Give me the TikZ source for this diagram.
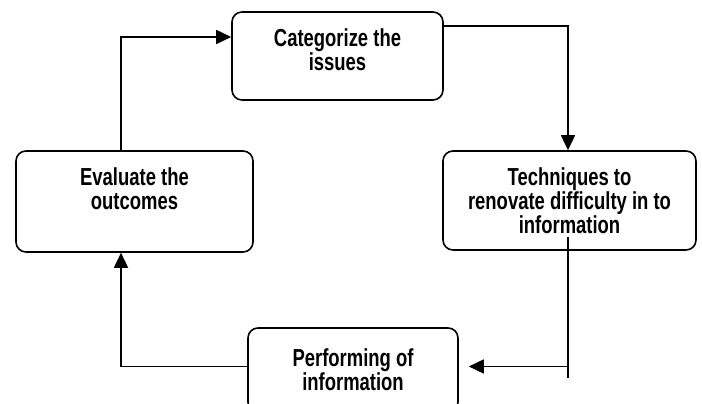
\documentclass[tikz,border=0pt]{standalone}
\usepackage{fontspec}
\setmainfont{Liberation Sans}[FakeStretch=0.75]
\usetikzlibrary{arrows.meta}

\tikzset{
  stage/.style={draw, line width=1.6pt, rounded corners=10pt, align=center,
    inner sep=0pt, font=\bfseries\fontsize{24.6}{24}\selectfont},
  flow/.style={line width=1.6pt, -{Triangle[length=15pt,width=14pt]}}
}

\begin{document}
\begin{tikzpicture}[x=1pt,y=1pt]
\useasboundingbox (0,0) rectangle (702,404);
\clip (0,0) rectangle (702,404);

\node[stage, minimum width=211pt, minimum height=88pt, text depth=12pt] (cat) at (337.5,348) {Categorize the\\issues};
\node[stage, minimum width=253pt, minimum height=99pt] (tech) at (569.5,203.5) {Techniques to\\renovate difficulty in to\\information};
\node[stage, minimum width=237pt, minimum height=101pt, text depth=25pt] (eval) at (134.5,202.5) {Evaluate the\\outcomes};
\node[stage, minimum width=210pt, minimum height=84pt] (perf) at (353,34) {Performing of\\information};

  \coordinate (over) at (568,378);
  \coordinate (dropin) at (568,167);
  \coordinate (dropend) at (568,26);
  \coordinate (dropout) at (568,37.5);
\coordinate (back) at (121,37.5);
\coordinate (up) at (121,367);

\draw[flow] (cat.east |- over) -- (over) -- (over |- tech.north);

\draw[line width=1.6pt] (dropin) -- (dropend);
\draw[flow, shorten >=10pt] (dropout) -- (dropout -| perf.east);

  \draw[flow] (back -| perf.west) -- (back) -- (back |- eval.south);
  \draw[flow] (up |- eval.north) -- (up) -- (up -| cat.west);

\end{tikzpicture}
\end{document}
